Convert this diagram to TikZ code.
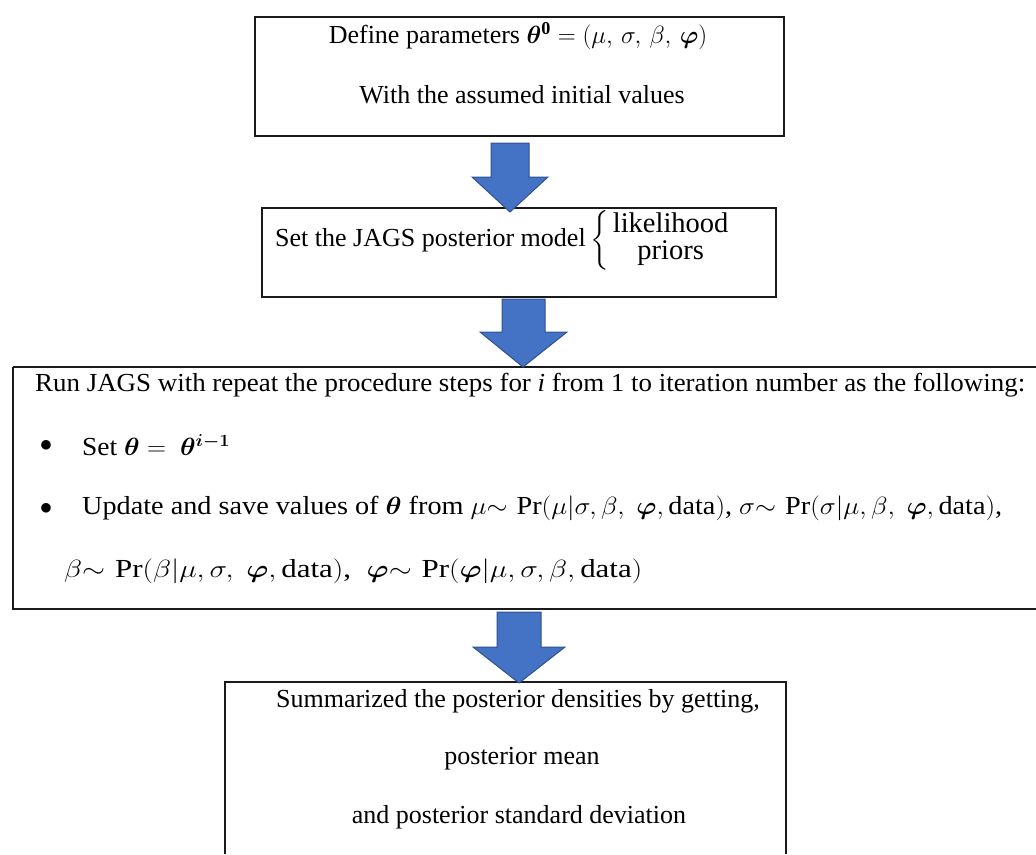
\documentclass[tikz,border=0pt]{standalone}
\usepackage{amsmath,bm}
\usepackage{graphicx}
\usepackage{fontspec}
\setmainfont{Liberation Serif}
\definecolor{arrowfill}{HTML}{4472C4}
\definecolor{arrowline}{HTML}{2F528F}
\definecolor{boxline}{HTML}{1A1A1A}
\tikzset{
  box/.style={draw=boxline, line width=2.6pt},
  txt/.style={inner sep=0pt, font=\fontsize{26}{31}\selectfont},
  bigarrow/.style={fill=arrowfill, draw=arrowline, line width=1pt, line join=miter}
}
\newcommand{\hsq}[2]{\resizebox{#1pt}{\height}{#2}}
\begin{document}
\begin{tikzpicture}[x=1pt,y=-1pt]
\useasboundingbox (0,0) rectangle (1036,854);
% boxes
\draw[box] (255,17) rectangle (784,136);
\draw[box] (262,208) rectangle (776,297);
\draw[box] (13,367) -- (1040,367) (13,367) -- (13,609) -- (1040,609);
\draw[box] (225,854) -- (225,682) -- (786,682) -- (786,854);
% box 1 text
\node[txt] (t1a) at (518,36) {Define parameters $\bm{\theta}^{\mathbf{0}} = (\mu,\, \sigma,\, \beta,\, \bm{\varphi})$};
\node[txt] (t1b) at (522,95) {With the assumed initial values};
% box 2 text
\node[txt, anchor=west] (t2) at (275,240) {Set the JAGS posterior model\,$\left\{\begin{array}{@{\,}c@{}}\text{\fontsize{28.5}{32}\selectfont likelihood}\\[-4pt]\text{\fontsize{28.5}{32}\selectfont priors}\end{array}\right.$};
% box 3 text
\node[txt, anchor=west] (t3a) at (35,385) {\hsq{990}{Run JAGS with repeat the procedure steps for \textit{i} from 1 to iteration number as the following:}};
\node[txt] (b1) at (46,446) {$\bullet$};
\node[txt, anchor=west] (t3b) at (82,445) {\hsq{148}{Set $\bm{\theta} =\ \bm{\theta}^{\bm{i-1}}$}};
\node[txt] (b2) at (46,509) {$\bullet$};
\node[txt, anchor=west] (t3c) at (82,508) {\hsq{920}{Update and save values of $\bm{\theta}$ from $\mu{\sim}\,\Pr(\mu|\sigma,\beta,\ \bm{\varphi},\text{data})$, $\sigma{\sim}\,\Pr(\sigma|\mu,\beta,\ \bm{\varphi},\text{data})$,}};
\node[txt, anchor=west] (t3d) at (64,571) {\hsq{578}{$\beta{\sim}\,\Pr(\beta|\mu,\sigma,\ \bm{\varphi},\text{data})$,\ \ $\bm{\varphi}{\sim}\,\Pr(\bm{\varphi}|\mu,\sigma,\beta,\text{data})$}};
% box 4 text
\node[txt] (t4a) at (518,701) {Summarized the posterior densities by getting,};
\node[txt] (t4b) at (522,759) {posterior mean};
\node[txt] (t4c) at (519,817) {and posterior standard deviation};
% arrows
\draw[bigarrow] (491,143) -- (529,143) -- (529,177) -- (548,177) -- (510,212) -- (472,177) -- (491,177) -- cycle;
\draw[bigarrow] (502,299) -- (545,299) -- (545,332) -- (567,332) -- (523,367) -- (480,332) -- (502,332) -- cycle;
\draw[bigarrow] (497,612) -- (541,612) -- (541,647) -- (565,647) -- (519,683) -- (473,647) -- (497,647) -- cycle;
\end{tikzpicture}
\end{document}
